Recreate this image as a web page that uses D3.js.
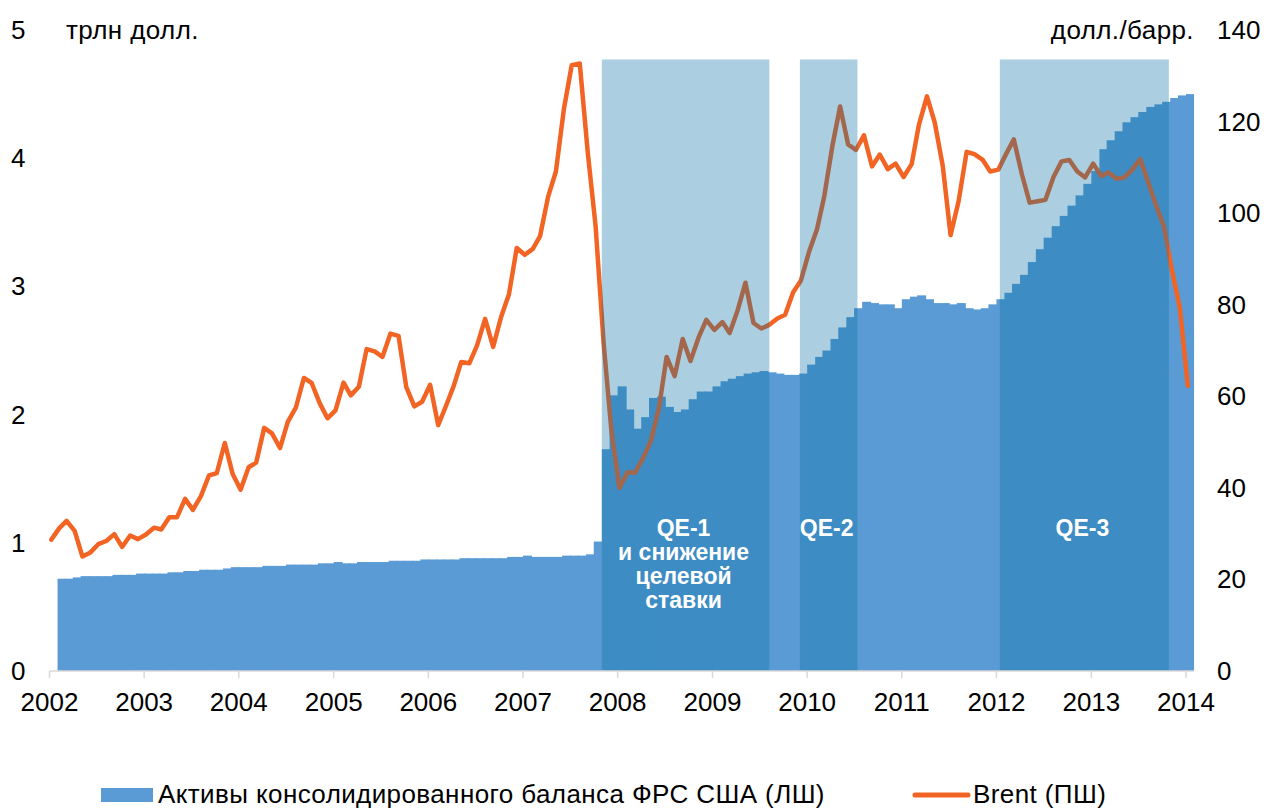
<!DOCTYPE html>
<html>
<head>
<meta charset="utf-8">
<script src="https://cdn.jsdelivr.net/npm/d3@7"></script>
<style>
  body { margin: 0; background: #fff; }
  text { font-family: Arial, "Liberation Sans", sans-serif; }
</style>
</head>
<body>
<div id="chart"></div>
<script>
// monthly Brent, USD/bbl (right axis)
var brent = [
  28.7,
  31.2, 32.8, 30.6, 25.0, 25.9, 27.7, 28.4, 29.9, 27.1, 29.6, 28.8, 29.8,
  31.3, 30.9, 33.6, 33.6, 37.6, 35.2, 38.2, 42.7, 43.2, 49.8, 43.1, 39.6,
  44.5, 45.5, 53.1, 51.9, 48.7, 54.4, 57.5, 64.0, 62.9, 58.5, 55.2, 56.9,
  63.0, 60.2, 62.1, 70.3, 69.8, 68.6, 73.7, 73.2, 62.0, 57.8, 58.8, 62.5,
  53.7, 57.6, 62.1, 67.5, 67.2, 71.1, 76.9, 70.8, 77.2, 82.3, 92.4, 90.9,
  92.2, 95.0, 103.6, 109.1, 122.8, 132.3, 132.7, 113.2, 97.2, 71.6, 52.5, 40.0,
  43.4, 43.3, 46.5, 50.2, 57.3, 68.6, 64.4, 72.5, 67.7, 72.8, 76.7, 74.5,
  76.2, 73.8, 78.8, 84.8, 76.0, 74.8, 75.6, 77.0, 77.8, 82.7, 85.3, 91.5,
  96.5, 103.7, 114.6, 123.3, 115.0, 113.8, 117.0, 110.2, 112.8, 109.6, 110.8, 107.9,
  110.7, 119.3, 125.5, 119.8, 110.3, 95.2, 102.6, 113.4, 112.9, 111.7, 109.1, 109.5,
  113.0, 116.1, 108.5, 102.3, 102.6, 102.9, 107.9, 111.3, 111.6, 109.1, 107.8, 110.8,
  108.1, 108.9, 107.5, 107.8, 109.5, 111.8, 106.8, 101.6, 97.1, 87.4, 79.4, 62.3
];

// monthly Fed consolidated balance sheet assets, trillion USD (left axis)
var assets = [
  0.72, 0.72, 0.73, 0.74, 0.74, 0.74, 0.74, 0.75, 0.75, 0.75, 0.76, 0.76,
  0.76, 0.76, 0.77, 0.77, 0.78, 0.78, 0.79, 0.79, 0.79, 0.80, 0.81, 0.81,
  0.81, 0.81, 0.82, 0.82, 0.82, 0.83, 0.83, 0.83, 0.83, 0.84, 0.84, 0.85,
  0.84, 0.84, 0.85, 0.85, 0.85, 0.85, 0.86, 0.86, 0.86, 0.86, 0.87, 0.87,
  0.87, 0.87, 0.87, 0.88, 0.88, 0.88, 0.88, 0.88, 0.88, 0.89, 0.89, 0.90,
  0.89, 0.89, 0.89, 0.89, 0.90, 0.90, 0.90, 0.91, 1.01, 1.73, 2.15, 2.22,
  2.04, 1.89, 1.98, 2.13, 2.14, 2.06, 2.02, 2.04, 2.12, 2.18, 2.18, 2.22,
  2.26, 2.28, 2.30, 2.32, 2.33, 2.34, 2.33, 2.32, 2.31, 2.31, 2.32, 2.39,
  2.45, 2.50, 2.59, 2.68, 2.76, 2.83, 2.88, 2.87, 2.86, 2.86, 2.83, 2.90,
  2.92, 2.93, 2.90, 2.87, 2.87, 2.86, 2.87, 2.83, 2.82, 2.83, 2.86, 2.90,
  2.95, 3.02, 3.09, 3.19, 3.29, 3.38, 3.47, 3.55, 3.63, 3.71, 3.80, 3.90,
  4.07, 4.14, 4.21, 4.28, 4.32, 4.36, 4.40, 4.42, 4.44, 4.47, 4.49, 4.50
];

var years = d3.range(2002, 2015);
var leftTicks = [0, 1, 2, 3, 4, 5];
var rightTicks = [0, 20, 40, 60, 80, 100, 120, 140];

var qe = [
  { start: "2007-11-01", end: "2009-08-08", lines: ["QE-1", "и снижение", "целевой", "ставки"] },
  { start: "2009-12-04", end: "2010-07-14", lines: ["QE-2"] },
  { start: "2012-01-14", end: "2013-10-27", lines: ["QE-3"] }
];

var width = 1264, height = 809;
var parse = d3.timeParse("%Y-%m-%d");

var x = d3.scaleTime()
    .domain([new Date(2002, 0, 1), new Date(2014, 0, 1)])
    .range([49.5, 1186]);
var yL = d3.scaleLinear().domain([0, 5]).range([671, 30]);
var yR = d3.scaleLinear().domain([0, 140]).range([671, 30]);

var svg = d3.select("#chart").append("svg")
    .attr("width", width)
    .attr("height", height);

// bars: one per month, touching each other
var barStart = new Date(2002, 1, 1);
svg.append("g").selectAll("rect")
    .data(assets)
    .enter()
    .append("rect")
    .attr("x", function (d, i) { return x(d3.timeMonth.offset(barStart, i)); })
    .attr("width", function (d, i) {
        var w = x(d3.timeMonth.offset(barStart, i + 1)) - x(d3.timeMonth.offset(barStart, i));
        return i < assets.length - 1 ? w + 1 : w;
    })
    .attr("y", function (d) { return yL(d); })
    .attr("height", function (d) { return yL(0) - yL(d); })
    .attr("fill", "#5b9bd5");

// Brent line
var lineStart = new Date(2002, 0, 8);
var line = d3.line()
    .x(function (d, i) { return x(d3.timeMonth.offset(lineStart, i)); })
    .y(function (d) { return yR(d); });

svg.append("path")
    .datum(brent)
    .attr("d", line)
    .attr("fill", "none")
    .attr("stroke", "#f26424")
    .attr("stroke-width", 4.5)
    .attr("stroke-linejoin", "round")
    .attr("stroke-linecap", "round");

// QE shading on top
var shadeTop = 4.77;
var qeG = svg.append("g").selectAll("g")
    .data(qe)
    .enter()
    .append("g");

qeG.append("rect")
    .attr("x", function (d) { return x(parse(d.start)); })
    .attr("width", function (d) { return x(parse(d.end)) - x(parse(d.start)); })
    .attr("y", yL(shadeTop))
    .attr("height", yL(0) - yL(shadeTop))
    .attr("fill", "rgb(0,110,160)")
    .attr("fill-opacity", 0.33);

qeG.append("text")
    .attr("text-anchor", "middle")
    .attr("fill", "white")
    .attr("font-size", 23)
    .attr("font-weight", "bold")
    .selectAll("tspan")
    .data(function (d) {
        var cx = (x(parse(d.start)) + x(parse(d.end))) / 2;
        return d.lines.map(function (t) { return { t: t, cx: cx }; });
    })
    .enter()
    .append("tspan")
    .attr("x", function (d) { return d.cx - 2; })
    .attr("y", function (d, i) { return 536 + i * 24; })
    .text(function (d) { return d.t; });

// x axis
svg.append("line")
    .attr("x1", x(new Date(2002, 0, 1)))
    .attr("x2", 1194)
    .attr("y1", 671)
    .attr("y2", 671)
    .attr("stroke", "#d9d9d9")
    .attr("stroke-width", 1.5);

var xt = svg.append("g").selectAll("g")
    .data(years)
    .enter()
    .append("g")
    .attr("transform", function (d) { return "translate(" + x(new Date(d, 0, 1)) + ",0)"; });

xt.append("line")
    .attr("y1", 671)
    .attr("y2", 678)
    .attr("stroke", "#d9d9d9")
    .attr("stroke-width", 1.5);

xt.append("text")
    .attr("y", 711)
    .attr("text-anchor", "middle")
    .attr("font-size", 26)
    .attr("fill", "#000")
    .text(function (d) { return d; });

// left axis labels
svg.append("g").selectAll("text")
    .data(leftTicks)
    .enter()
    .append("text")
    .attr("x", 11)
    .attr("y", function (d) { return yL(d) + 9; })
    .attr("font-size", 26)
    .text(function (d) { return d; });

// right axis labels
svg.append("g").selectAll("text")
    .data(rightTicks)
    .enter()
    .append("text")
    .attr("x", 1217)
    .attr("y", function (d) { return yR(d) + 9; })
    .attr("font-size", 26)
    .text(function (d) { return d; });

// units
svg.append("text")
    .attr("x", 66)
    .attr("y", 39)
    .attr("font-size", 26)
    .attr("letter-spacing", 0.4)
    .text("трлн долл.");

svg.append("text")
    .attr("x", 1194)
    .attr("y", 39)
    .attr("text-anchor", "end")
    .attr("font-size", 26)
    .attr("letter-spacing", 0.4)
    .text("долл./барр.");

// legend
svg.append("rect")
    .attr("x", 101)
    .attr("y", 788)
    .attr("width", 52)
    .attr("height", 14)
    .attr("fill", "#5b9bd5");

svg.append("text")
    .attr("x", 158)
    .attr("y", 803)
    .attr("font-size", 26)
    .attr("letter-spacing", 0.4)
    .text("Активы консолидированного баланса ФРС США (ЛШ)");

svg.append("line")
    .attr("x1", 915)
    .attr("x2", 968)
    .attr("y1", 795)
    .attr("y2", 795)
    .attr("stroke", "#f26424")
    .attr("stroke-width", 5)
    .attr("stroke-linecap", "round");

svg.append("text")
    .attr("x", 973)
    .attr("y", 803)
    .attr("font-size", 26)
    .attr("letter-spacing", 0.4)
    .text("Brent (ПШ)");
</script>
</body>
</html>
